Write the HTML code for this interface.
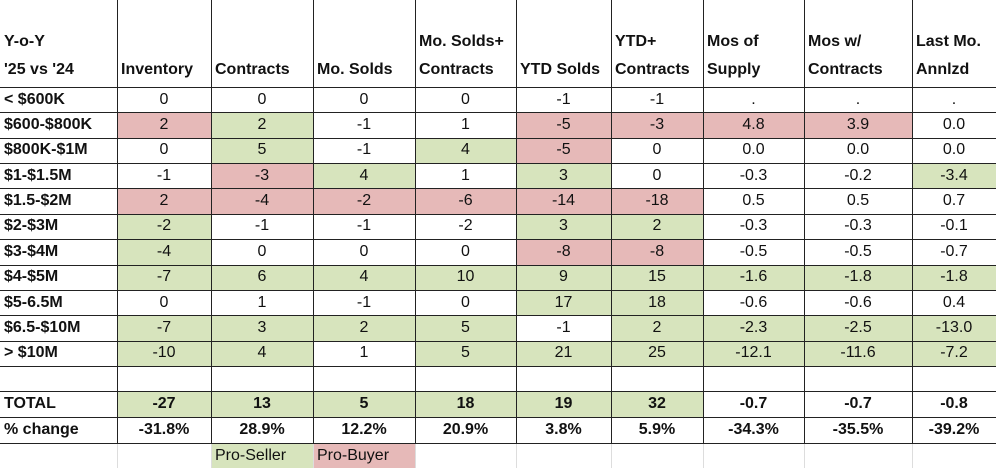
<!DOCTYPE html>
<html><head><meta charset="utf-8"><style>
body{margin:0;background:#fff;width:996px;height:468px;overflow:hidden;font-family:"Liberation Sans",Arial,sans-serif;}
#t{position:relative;width:996px;height:468px;}
.c{position:absolute;box-sizing:border-box;display:flex;align-items:center;justify-content:center;font-size:16px;color:#111;}
.h{font-weight:bold;font-size:16px;align-items:flex-end;justify-content:flex-start;padding:0 0 3px 4px;line-height:28px;white-space:nowrap;}
.l{justify-content:flex-start;padding-left:4px;font-weight:bold;font-size:16px;}
.b{font-weight:bold;}
.g{background:#d7e4bd;}
.p{background:#e6b9b8;}
.vl{position:absolute;top:0;width:1px;background:#222;}
.hl{position:absolute;left:0;width:996px;height:1px;background:#222;}
</style></head><body>
<div id="t"></div>
<script>
const colX=[0,117,211,313,415,516,611,703,804,912,996];
const headers=["Y-o-Y<br>'25 vs '24","Inventory","Contracts","Mo. Solds","Mo. Solds+<br>Contracts","YTD Solds","YTD+<br>Contracts","Mos of<br>Supply","Mos w/<br>Contracts","Last Mo.<br>Annlzd"];
const labels=["< $600K","$600-$800K","$800K-$1M","$1-$1.5M","$1.5-$2M","$2-$3M","$3-$4M","$4-$5M","$5-6.5M","$6.5-$10M","> $10M"];
const values=[
["0","0","0","0","-1","-1",".",".","."],
["2","2","-1","1","-5","-3","4.8","3.9","0.0"],
["0","5","-1","4","-5","0","0.0","0.0","0.0"],
["-1","-3","4","1","3","0","-0.3","-0.2","-3.4"],
["2","-4","-2","-6","-14","-18","0.5","0.5","0.7"],
["-2","-1","-1","-2","3","2","-0.3","-0.3","-0.1"],
["-4","0","0","0","-8","-8","-0.5","-0.5","-0.7"],
["-7","6","4","10","9","15","-1.6","-1.8","-1.8"],
["0","1","-1","0","17","18","-0.6","-0.6","0.4"],
["-7","3","2","5","-1","2","-2.3","-2.5","-13.0"],
["-10","4","1","5","21","25","-12.1","-11.6","-7.2"]];
const shading=["_________","pg__pppp_","_g_gp____","_pg_g___g","pppppp___","g___gg___","g___pp___","ggggggggg","____gg___","gggg_gggg","gg_gggggg"];
const totals=["-27","13","5","18","19","32","-0.7","-0.7","-0.8"];
const totalShade="gggggg___";
const pct=["-31.8%","28.9%","12.2%","20.9%","3.8%","5.9%","-34.3%","-35.5%","-39.2%"];
const t=document.getElementById('t');
function cell(x0,x1,y0,y1,html,cls){const d=document.createElement('div');d.className='c '+cls;d.style.left=x0+'px';d.style.width=(x1-x0)+'px';d.style.top=y0+'px';d.style.height=(y1-y0)+'px';d.innerHTML=html;t.appendChild(d);return d;}
const H=87,RH=(366-87)/11;
headers.forEach((h,i)=>{const d=cell(colX[i],colX[i+1],0,H,h,'h');

});
labels.forEach((lab,r)=>{const y0=H+r*RH,y1=y0+RH;
const d=cell(0,117,y0,y1,lab,'l');


values[r].forEach((v,c)=>{const s=shading[r][c];const e=cell(colX[c+1],colX[c+2],y0,y1,v,s==='_'?'':s);

});});
let d=cell(0,117,391,417,'TOTAL','l');


totals.forEach((v,c)=>{const s=totalShade[c];const e=cell(colX[c+1],colX[c+2],391,417,v,'b '+(s==='_'?'':s));

});
d=cell(0,117,417,443,'% change','l');


pct.forEach((v,c)=>{const e=cell(colX[c+1],colX[c+2],417,443,v,'b');

});
let lg=cell(211,313,443,468,'Pro-Seller','g');lg.style.justifyContent='flex-start';lg.style.paddingLeft='4px';


lg=cell(313,415,443,468,'Pro-Buyer','p');lg.style.justifyContent='flex-start';lg.style.paddingLeft='4px';


colX.slice(1,10).forEach(x=>{const v=document.createElement('div');v.className='vl';v.style.left=x+'px';v.style.height='443px';t.appendChild(v);
const g=document.createElement('div');g.className='vl';g.style.left=x+'px';g.style.top='443px';g.style.height='25px';g.style.background='#ddd';t.appendChild(g);});
const ys=[H];for(let r=1;r<=11;r++)ys.push(Math.round(H+r*RH));ys.push(391,417,443);
ys.forEach(y=>{const h=document.createElement('div');h.className='hl';h.style.top=y+'px';t.appendChild(h);});
</script>
</body></html>
